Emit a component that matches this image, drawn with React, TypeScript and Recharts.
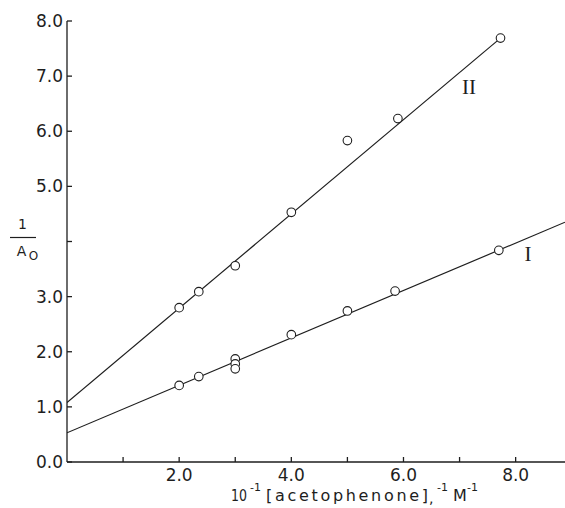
import { ComposedChart, XAxis, YAxis, Line, Scatter } from "recharts";

// curve I (lower) and curve II (upper) measured points
const xI = [2.0, 2.35, 3.0, 3.0, 3.0, 4.0, 5.0, 5.85, 7.7];
const yI = [1.39, 1.55, 1.87, 1.78, 1.69, 2.31, 2.74, 3.1, 3.84];
const xII = [2.0, 2.35, 3.0, 4.0, 5.0, 5.9, 7.73];
const yII = [2.8, 3.09, 3.56, 4.53, 5.83, 6.23, 7.69];

// fitted straight lines (end points)
const fitXI = [0, 8.88];
const fitYI = [0.53, 4.35];
const fitXII = [0, 7.73];
const fitYII = [1.08, 7.69];

const ticksX = [1, 2, 3, 4, 5, 6, 7, 8];
const ticksY = [0, 1, 2, 3, 4, 5, 6, 7, 8];
const X_MAX = 8.88;

const zip = (xs: number[], ys: number[]) => xs.map((x, i) => ({ x, y: ys[i] }));

const ptsI = zip(xI, yI);
const ptsII = zip(xII, yII);
const lineI = zip(fitXI, fitYI);
const lineII = zip(fitXII, fitYII);

const W = 565;
const H = 508;
const INK = "#1e1e1e";
const tickFont = { fontSize: 17, fill: INK, fontFamily: "DejaVu Sans" };

const Ring = (p: any) => (
  <circle cx={p.cx} cy={p.cy} r={4.3} fill="#fff" stroke={INK} strokeWidth={1.1} />
);

export default function App() {
  return (
    <div style={{ position: "absolute", left: 0, top: 0, width: W, height: H, background: "#fff" }}>
      <ComposedChart width={W} height={H} margin={{ top: 21, right: 0, bottom: 16, left: 0 }}>
        <XAxis
          xAxisId="b"
          type="number"
          dataKey="x"
          domain={[0, X_MAX]}
          ticks={ticksX}
          allowDataOverflow
          tickFormatter={(v: number) => (v % 2 === 0 ? v.toFixed(1) : "")}
          tickSize={-5}
          tickMargin={12}
          height={30}
          stroke={INK}
          strokeWidth={1.3}
          tick={tickFont}
        />
        <XAxis
          xAxisId="t"
          orientation="top"
          type="number"
          dataKey="x"
          domain={[0, X_MAX]}
          ticks={ticksX}
          tick={false}
          tickSize={-5}
          height={0}
          stroke={INK}
          strokeWidth={1.3}
        />
        <YAxis
          yAxisId="l"
          type="number"
          dataKey="y"
          domain={[0, 8]}
          ticks={ticksY}
          tickFormatter={(v: number) => (v === 4 ? "" : v.toFixed(1))}
          tickSize={-5}
          tickMargin={9}
          width={67}
          stroke={INK}
          strokeWidth={1.3}
          tick={tickFont}
        />
        <Line xAxisId="b" yAxisId="l" data={lineI} dataKey="y" type="linear" stroke={INK} strokeWidth={1.2} dot={false} isAnimationActive={false} />
        <Line xAxisId="b" yAxisId="l" data={lineII} dataKey="y" type="linear" stroke={INK} strokeWidth={1.2} dot={false} isAnimationActive={false} />
        <Scatter xAxisId="b" yAxisId="l" data={ptsI} shape={Ring} isAnimationActive={false} />
        <Scatter xAxisId="b" yAxisId="l" data={ptsII} shape={Ring} isAnimationActive={false} />
      </ComposedChart>

      <svg width={W} height={H} style={{ position: "absolute", left: 0, top: 0, pointerEvents: "none" }}>
        <g fill={INK} fontFamily="DejaVu Sans">
          {/* y-axis label 1/A0 */}
          <text x={22.5} y={229} fontSize={14} textAnchor="middle">1</text>
          <line x1={10} x2={36} y1={237.5} y2={237.5} stroke={INK} strokeWidth={1.2} />
          <text x={21.5} y={256} fontSize={14} textAnchor="middle">A</text>
          <text x={33.5} y={260} fontSize={12} textAnchor="middle">O</text>

          {/* curve labels */}
          <text x={469} y={94} fontSize={21} fontFamily="Liberation Serif" textAnchor="middle">II</text>
          <text x={528} y={261} fontSize={21} fontFamily="Liberation Serif" textAnchor="middle">I</text>

          {/* x-axis label */}
          <text x={231} y={501} fontSize={15} textLength={16} lengthAdjust="spacingAndGlyphs">10</text>
          <text x={250} y={491} fontSize={11}>-1</text>
          <text x={266} y={501} fontSize={16} textLength={162} lengthAdjust="spacing">[acetophenone]</text>
          <text x={429} y={503} fontSize={14}>,</text>
          <text x={437} y={491} fontSize={11}>-1</text>
          <text x={453} y={501} fontSize={16}>M</text>
          <text x={467} y={491} fontSize={11}>-1</text>
        </g>
      </svg>
    </div>
  );
}
